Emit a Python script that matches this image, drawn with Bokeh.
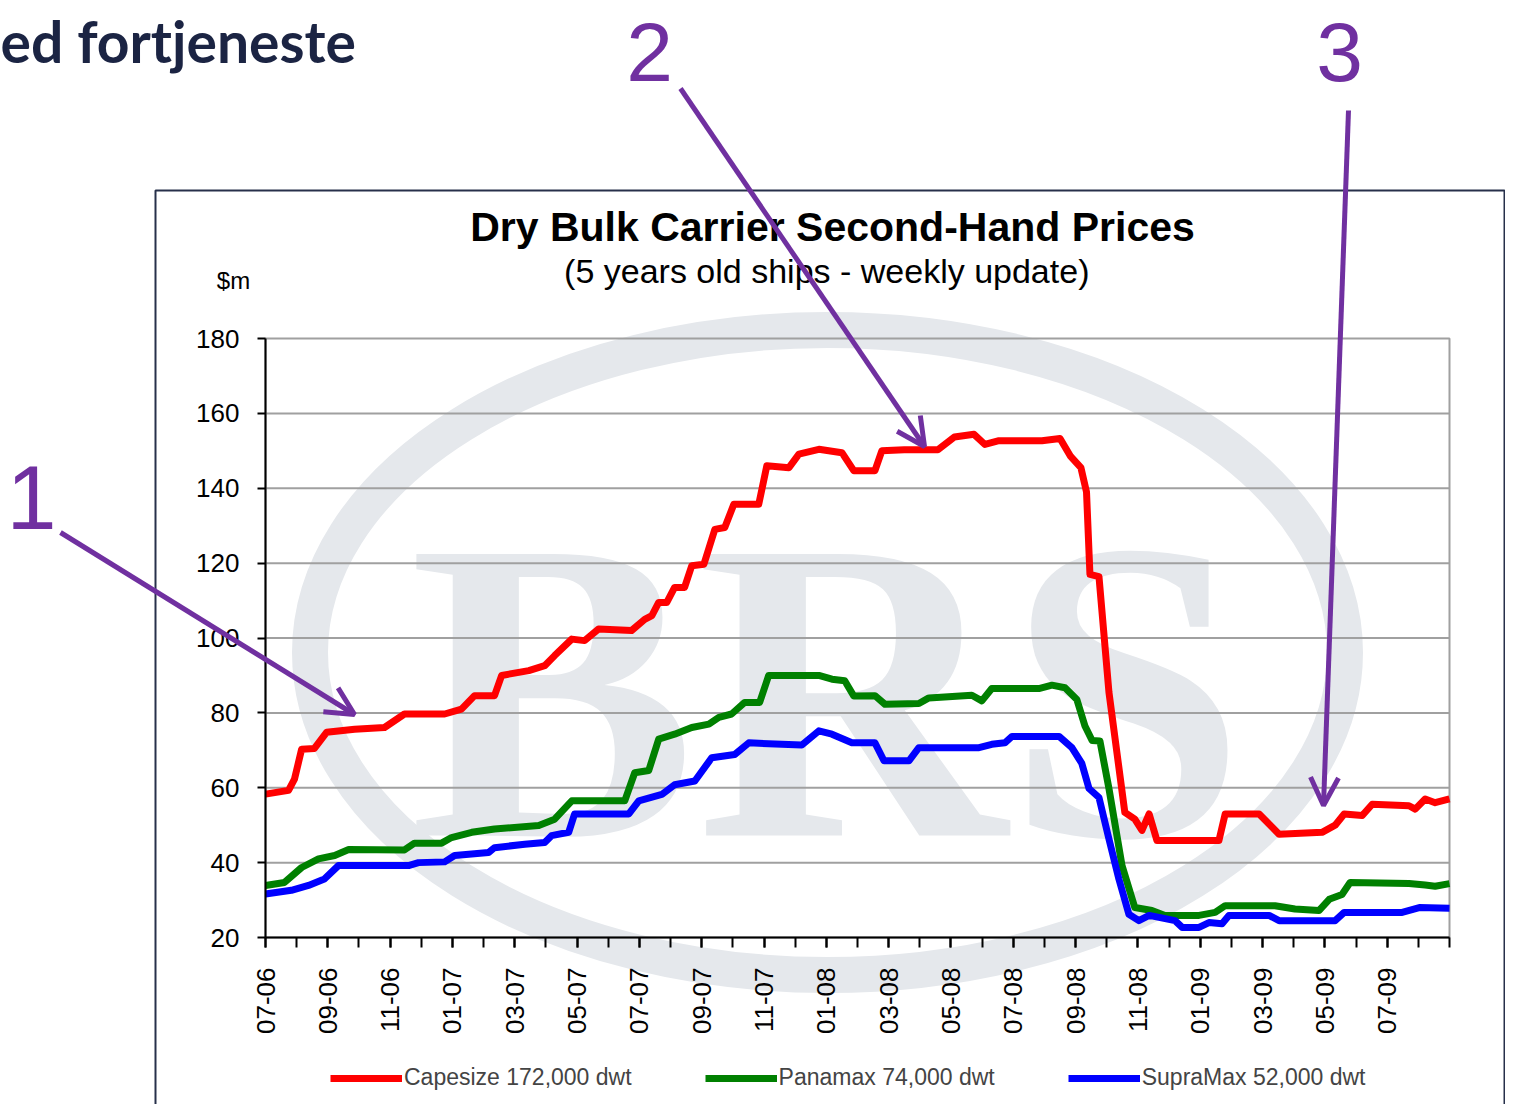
from bokeh.plotting import figure
from bokeh.models import (Range1d, FixedTicker, Label, Arrow, OpenHead, Legend,
                          LegendItem, BoxAnnotation, LinearAxis)
from bokeh.embed import file_html
from bokeh.resources import INLINE
from bokeh.core.properties import value

# x = months since July 2006 (weekly series, read at its break points)
cape_month = [0.0, 0.74, 0.93, 1.16, 1.57, 1.96, 2.86, 3.82, 4.46, 5.75, 6.29, 6.71, 7.35, 7.58,
              8.45, 8.96, 9.28, 9.83, 10.24, 10.69, 11.75, 12.17, 12.4, 12.62, 12.88, 13.13, 13.45,
              13.68, 14.07, 14.42, 14.74, 15.03, 15.83, 16.09, 16.8, 17.12, 17.76, 18.5, 18.88,
              19.56, 19.78, 20.5, 21.58, 22.11, 22.74, 23.09, 23.54, 24.92, 25.5, 25.84, 26.17,
              26.35, 26.46, 26.75, 27.07, 27.58, 27.9, 28.13, 28.36, 28.61, 30.6, 30.8, 31.89,
              32.53, 33.91, 34.33, 34.62, 35.2, 35.52, 36.7, 36.9, 37.22, 37.54, 38.0]
cape_price = [58.3, 59.3, 62.3, 70.3, 70.5, 74.8, 75.6, 76.1, 79.7, 79.7, 81.0, 84.6, 84.6, 90.0,
              91.3, 92.6, 95.3, 99.7, 99.3, 102.4, 102.0, 105.0, 106.0, 109.5, 109.5, 113.5, 113.5,
              119.3, 119.7, 129.0, 129.5, 135.7, 135.7, 146.0, 145.5, 149.1, 150.4, 149.5, 144.7,
              144.7, 150.0, 150.3, 150.3, 153.7, 154.4, 151.7, 152.7, 152.7, 153.3, 148.5, 145.5,
              139.0, 117.0, 116.4, 85.5, 53.4, 51.6, 48.6, 53.0, 45.9, 45.9, 53.0, 53.0,
              47.6, 48.1, 50.0, 53.0, 52.6, 55.6, 55.2, 54.3, 57.0, 56.0, 57.0]

pana_month = [0.0, 0.61, 1.16, 1.7, 2.22, 2.67, 4.46, 4.78, 5.65, 5.97, 6.62, 7.35, 8.77, 9.28,
              9.83, 11.53, 11.85, 12.3, 12.62, 13.13, 13.68, 14.23, 14.55, 14.96, 15.38, 15.86,
              16.15, 17.76, 18.18, 18.59, 18.88, 19.56, 19.88, 20.97, 21.29, 22.67, 22.99, 23.31,
              24.82, 25.24, 25.66, 26.04, 26.3, 26.53, 26.78, 27.07, 27.49, 27.9, 28.45, 28.87,
              29.96, 30.48, 30.8, 32.4, 33.04, 33.81, 34.14, 34.55, 34.81, 36.7, 37.22, 37.54, 38.0]
pana_price = [33.9, 34.7, 38.7, 41.0, 41.9, 43.5, 43.4, 45.2, 45.2, 46.7, 48.1, 49.0, 49.9, 51.6,
              56.5, 56.5, 64.0, 64.6, 73.0, 74.3, 76.1, 77.0, 78.8, 79.7, 82.8, 82.8,
              90.0, 90.0, 89.0, 88.6, 84.5, 84.6, 82.3, 82.5, 84.0, 84.7, 83.2, 86.5,
              86.5, 87.4, 86.7, 83.6, 76.5, 72.6, 72.5, 59.8, 39.2, 28.0, 27.2, 25.9,
              25.9, 26.7, 28.5, 28.5, 27.6, 27.2, 30.2, 31.5, 34.7, 34.4, 34.0, 33.7, 34.4]

supra_month = [0.0, 0.83, 1.38, 1.89, 2.34, 4.59, 4.91, 5.75, 6.07, 7.16, 7.35, 8.32, 8.96, 9.18,
               9.73, 9.92, 11.66, 11.98, 12.72, 13.13, 13.78, 14.32, 15.06, 15.51, 17.21, 17.76,
               18.18, 18.82, 19.56, 19.85, 20.65, 20.97, 22.9, 23.31, 23.73, 23.96, 25.47, 25.88,
               26.2, 26.43, 26.75, 27.07, 27.39, 27.71, 28.03, 28.36, 29.19, 29.42, 29.96, 30.28,
               30.7, 30.92, 32.21, 32.53, 34.33, 34.62, 36.48, 37.03, 38.0]
supra_price = [31.6, 32.6, 33.9, 35.6, 39.2, 39.2, 40.0, 40.2, 41.9, 42.7, 44.0, 44.9, 45.4, 47.2,
               48.1, 53.0, 53.0, 56.5, 58.2, 60.8, 61.8, 68.0, 68.9, 72.0, 71.4, 75.2,
               74.3, 72.0, 72.0, 67.2, 67.2, 70.7, 70.7, 71.6, 72.0, 73.7, 73.7, 70.7,
               66.5, 59.8, 57.4, 46.3, 35.6, 26.2, 24.5, 25.9, 24.5, 22.7, 22.7, 24.0,
               23.7, 25.9, 25.9, 24.5, 24.5, 26.7, 26.7, 28.0, 27.8]

tick_months = list(range(0, 37, 2))
tick_labels = ["07-06", "09-06", "11-06", "01-07", "03-07", "05-07", "07-07", "09-07", "11-07",
               "01-08", "03-08", "05-08", "07-08", "09-08", "11-08", "01-09", "03-09", "05-09",
               "07-09"]
minor_months = list(range(0, 39))
y_ticks = [20, 40, 60, 80, 100, 120, 140, 160, 180]
grid_values = [40, 60, 80, 100, 120, 140, 160]
m_min, m_max, v_min, v_max = 0, 38, 20, 180

series_names = ["Capesize 172,000 dwt", "Panamax 74,000 dwt", "SupraMax 52,000 dwt"]
series_colors = ["#ff0000", "#008000", "#0000ff"]

PURPLE = "#7030a0"
WM = "#e5e8ec"

# canvas (page picture minus 8px margin); plot rectangle in canvas pixels
W, H = 1505, 1104
PL, PR, PT, PB = 265, 1449, 338, 937
sx = (PR - PL) / (m_max - m_min)
sy = (PB - PT) / (v_max - v_min)

p = figure(width=W, height=H, x_range=Range1d(0, W), y_range=Range1d(H, 0),
           x_axis_type=None, y_axis_type=None, output_backend="svg", toolbar_location=None,
           min_border=0)
p.extra_x_ranges = {"months": Range1d(m_min - PL / sx, m_max + (W - PR) / sx)}
p.extra_y_ranges = {"price": Range1d(v_min - (H - PB) / sy, v_max + PT / sy)}
p.background_fill_color = "white"
p.border_fill_color = "white"
p.outline_line_color = None
p.xgrid.visible = False
p.ygrid.visible = False

# watermark (canvas pixels)
p.ellipse(x=[827], y=[652], width=[1035], height=[645], fill_color=None, line_color=WM,
          line_width=36, level="image")
p.text(x=[827], y=[690], text=["BRS"], text_font=value("Liberation Serif"),
       text_font_style="bold", text_font_size="430px", text_color=WM, text_align="center",
       text_baseline="middle", level="image")

# plot area: grid lines and frame
p.segment(x0=m_min, x1=m_max, y0=grid_values, y1=grid_values, line_color="#a0a0a0",
          line_width=2, x_range_name="months", y_range_name="price", level="underlay")
p.quad(left=[m_min], right=[m_max], bottom=[v_min], top=[v_max], fill_color=None,
       line_color="#a0a0a0", line_width=2, x_range_name="months", y_range_name="price",
       level="underlay")

# axes
xax = LinearAxis(x_range_name="months", fixed_location=PB, bounds=(m_min, m_max),
                 ticker=FixedTicker(ticks=tick_months, minor_ticks=minor_months))
xax.major_label_overrides = {m: t for m, t in zip(tick_months, tick_labels)}
xax.major_label_orientation = 1.5707963
yax = LinearAxis(y_range_name="price", fixed_location=PL, bounds=(v_min, v_max),
                 ticker=FixedTicker(ticks=y_ticks, minor_ticks=[]))
for ax in (xax, yax):
    ax.axis_line_color = "black"
    ax.axis_line_width = 2
    ax.major_tick_line_color = "black"
    ax.major_tick_line_width = 2
    ax.minor_tick_line_color = "black"
    ax.minor_tick_line_width = 2
    ax.major_tick_in = 0
    ax.minor_tick_in = 0
    ax.major_label_text_font = "Liberation Sans"
    ax.major_label_text_font_size = "26px"
    ax.major_label_text_color = "black"
xax.major_tick_out = 10
xax.minor_tick_out = 10
xax.major_label_standoff = 20
yax.major_tick_out = 8
yax.major_label_standoff = 18
p.add_layout(xax, "below")
p.add_layout(yax, "left")

# series
rs = []
for xs, ys, c in zip([cape_month, pana_month, supra_month],
                     [cape_price, pana_price, supra_price], series_colors):
    rs.append(p.line(xs, ys, line_color=c, line_width=7, line_join="round",
                     x_range_name="months", y_range_name="price"))

legend = Legend(items=[LegendItem(label=n, renderers=[r]) for n, r in zip(series_names, rs)],
                orientation="horizontal", location=(330, 13), glyph_width=72, glyph_height=22,
                label_text_font="Liberation Sans", label_text_font_size="23px",
                label_standoff=2, spacing=73, padding=0, margin=0,
                border_line_color=None, background_fill_alpha=0)
p.add_layout(legend, "center")

# outer chart box
p.add_layout(BoxAnnotation(left=155, right=1504, top=190, bottom=1200, fill_alpha=0,
                           line_color="#27304a", line_alpha=1.0, line_width=2))

# titles
p.add_layout(Label(x=832, y=226, text="Dry Bulk Carrier Second-Hand Prices",
                   text_font="Liberation Sans", text_font_style="bold", text_font_size="41px",
                   text_align="center", text_baseline="middle", text_color="black"))
p.add_layout(Label(x=831, y=270, text="(5 years old ships - weekly  update)",
                   text_font="Liberation Sans", text_font_size="34px",
                   text_align="center", text_baseline="middle", text_color="black"))
p.add_layout(Label(x=233, y=280, text="$m", text_font="Liberation Sans",
                   text_font_size="24px", text_align="center", text_baseline="middle",
                   text_color="black"))

# slide overlay: heading fragment, numbers, arrows
p.add_layout(Label(x=0, y=40, text="ed fortjeneste", text_font="Lato",
                   text_font_style="bold", text_font_size="57px", text_align="left",
                   text_baseline="middle", text_color="#1b2443"))
p.add_layout(Label(x=31, y=497, text="1", text_font="Liberation Sans", text_font_size="90px",
                   text_align="center", text_baseline="middle", text_color=PURPLE))
for t, cx in [("2", 649), ("3", 1339)]:
    p.add_layout(Label(x=cx, y=22, text=t, text_font="Liberation Sans", text_font_size="84px",
                       text_align="center", text_baseline="top", text_color=PURPLE))
for (x0, y0, x1, y1) in [(60, 532, 354, 714), (680, 88, 924, 446), (1348, 110, 1323, 805)]:
    p.add_layout(Arrow(end=OpenHead(size=28, line_color=PURPLE, line_width=5),
                       x_start=x0, y_start=y0, x_end=x1, y_end=y1,
                       line_color=PURPLE, line_width=5))

open("out.html", "w").write(file_html(p, INLINE))
